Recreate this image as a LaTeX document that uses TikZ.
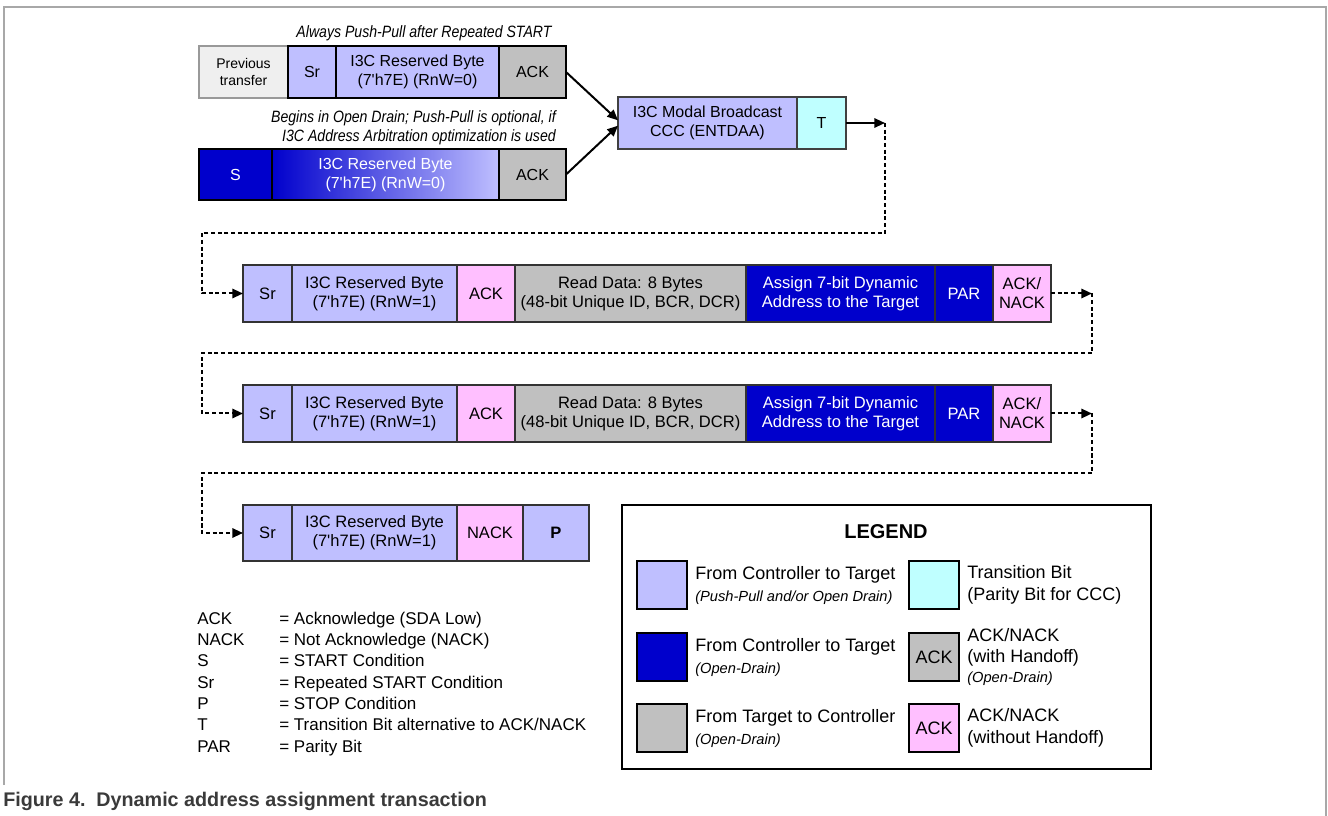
\documentclass[tikz,border=0pt]{standalone}
\usepackage{fontspec}
\setmainfont{Liberation Sans}
\newfontfamily\narrowsans{Liberation Sans}[FakeStretch=0.86]
\usetikzlibrary{arrows.meta,positioning}

\definecolor{lav}{HTML}{BFBFFF}
\definecolor{dkblue}{HTML}{0000CC}
\definecolor{tgray}{HTML}{C0C0C0}
\definecolor{pinkack}{HTML}{FFBFFF}
\definecolor{cyant}{HTML}{BFFFFF}
\definecolor{prevgray}{HTML}{EFEFEF}
\definecolor{framegray}{HTML}{A8A8A8}
\definecolor{capgray}{HTML}{3A3A3A}

\newcommand{\boxfont}{\fontsize{12}{14.25}\selectfont}
\newcommand{\rowfont}{\fontsize{12.4}{14.25}\selectfont}
\newcommand{\prevfont}{\fontsize{10.5}{12.75}\selectfont}
\newcommand{\notefont}{\narrowsans\itshape\fontsize{12.3}{14.25}\selectfont}
\newcommand{\legfont}{\fontsize{13.5}{16.5}\selectfont}
\newcommand{\legsub}{\itshape\fontsize{11}{16.5}\selectfont}
\newcommand{\abbrfont}{\fontsize{12.75}{16}\selectfont}
\newcommand{\hq}{\textquotesingle}

\begin{document}
\begin{tikzpicture}[x=0.75pt,y=-0.75pt]
\useasboundingbox (0,0) rectangle (1328,816);
\draw[framegray,line width=1.5pt] (4,785) -- (4,7) -- (1326,7) -- (1326,816);

\tikzset{fw/.style={minimum width=#1*0.75pt},fh/.style={minimum height=#1*0.75pt}}
\tikzstyle{field}=[draw=black!80,line width=1.3pt,inner sep=0pt,outer sep=0pt,align=center,anchor=north west,font=\rowfont]
\tikzstyle{thickbox}=[draw=black,line width=2.2pt,font=\boxfont]
\tikzstyle{thinbox}=[draw=black!75,line width=1.1pt,font=\boxfont]
\tikzstyle{arr}=[line width=1.5pt,-{Triangle[length=8pt,width=7pt]}]
\tikzstyle{dotarr}=[line width=1.5pt,dash pattern=on 3pt off 2pt,-{Triangle[length=8pt,width=7pt]}]
\tikzstyle{swatch}=[draw,line width=1.4pt,minimum width=37.5pt,minimum height=36pt,anchor=north west,inner sep=0pt,outer sep=0pt,font=\legfont]
\tikzstyle{legtext}=[align=left,anchor=west,inner sep=0pt,font=\legfont]

\node[font=\notefont] (note1) at (424,33) {Always Push-Pull after Repeated START};
\node[field,fw=89,fh=52,fill=prevgray,draw=gray!80,line width=1.1pt,font=\prevfont] (prev) at (199,46) {Previous\\transfer};
\node[field,thickbox,fw=48,fh=52,fill=lav] (sr1) at (prev.north east) {Sr};
\node[field,thickbox,fw=163,fh=52,fill=lav] (rb1) at (sr1.north east) {I3C Reserved Byte\\(7\hq h7E) (RnW=0)};
\node[field,thickbox,fw=67,fh=52,fill=tgray] (ack1) at (rb1.north east) {ACK};

\node[font=\notefont,align=right,anchor=east,inner sep=0pt] (note2) at (556,127.5) {Begins in Open Drain; Push-Pull is optional, if\\I3C Address Arbitration optimization is used};
\node[field,thickbox,fw=73,fh=51,fill=dkblue,text=white] (s2) at (199,149) {S};
\node[field,thickbox,fw=227,fh=51,left color=dkblue,right color=lav,text=white] (rb2) at (s2.north east) {I3C Reserved Byte\\(7\hq h7E) (RnW=0)};
\node[field,thickbox,fw=67,fh=51,fill=tgray] (ack2) at (rb2.north east) {ACK};

\node[field,thinbox,fw=179,fh=52,fill=lav] (modal) at (618,97) {I3C Modal Broadcast\\CCC (ENTDAA)};
\node[field,thinbox,fw=49,fh=52,fill=cyant] (tbit) at (modal.north east) {T};

\foreach \r/\y in {3/265,4/385}{
  \node[field,fw=49,fh=57,fill=lav] (sr\r) at (243,\y) {Sr};
  \node[field,fw=165,fh=57,fill=lav] (rb\r) at (sr\r.north east) {I3C Reserved Byte\\(7\hq h7E) (RnW=1)};
  \node[field,fw=58,fh=57,fill=pinkack] (ack\r) at (rb\r.north east) {ACK};
  \node[field,fw=231,fh=57,fill=tgray] (rd\r) at (ack\r.north east) {Read Data: 8 Bytes\\(48-bit Unique ID, BCR, DCR)};
  \node[field,fw=189,fh=57,fill=dkblue,text=white] (da\r) at (rd\r.north east) {Assign 7-bit Dynamic\\Address to the Target};
  \node[field,fw=58,fh=57,fill=dkblue,text=white] (par\r) at (da\r.north east) {PAR};
  \node[field,fw=58,fh=57,fill=pinkack] (an\r) at (par\r.north east) {ACK/\\NACK};
}

\node[field,fw=49,fh=56,fill=lav] (sr5) at (243,505) {Sr};
\node[field,fw=165,fh=56,fill=lav] (rb5) at (sr5.north east) {I3C Reserved Byte\\(7\hq h7E) (RnW=1)};
\node[field,fw=66,fh=56,fill=pinkack] (nack5) at (rb5.north east) {NACK};
\node[field,fw=66,fh=56,fill=lav,font=\rowfont\bfseries] (stop5) at (nack5.north east) {P};

\draw[arr] (ack1.east) -- ([yshift=2pt]modal.west);
\draw[arr] (ack2.east) -- ([yshift=-2pt]modal.west);
\draw[arr] (tbit.east) -- ++(39,0) coordinate (c2);
\draw[dotarr] (c2) |- (202,233) |- (sr3.west);
\foreach \a/\b/\y in {3/4/353,4/5/473}{
  \draw[dotarr] (an\a.east) -- ++(41,0) coordinate (c\a);
  \draw[dotarr] (c\a) |- (202,\y) |- (sr\b.west);
}

\node[draw,line width=2pt,fw=529,fh=264,anchor=north west,outer sep=0pt] (legend) at (622,505) {};
\node[font=\bfseries\fontsize{15}{18}\selectfont] (legtitle) at (886,532) {LEGEND};
\node[swatch,fill=lav] (sw1) at (637,561) {};
\node[swatch,fill=dkblue] (sw2) at (637,633) {};
\node[swatch,fill=tgray] (sw3) at (637,704) {};
\node[swatch,fill=cyant] (sw4) at (909,561) {};
\node[swatch,fill=tgray] (sw5) at (909,633) {ACK};
\node[swatch,fill=pinkack] (sw6) at (909,704) {ACK};
\node[legtext,right=6pt of sw1] (lt1) {From Controller to Target\\{\legsub (Push-Pull and/or Open Drain)}};
\node[legtext,right=6pt of sw2] (lt2) {From Controller to Target\\{\legsub (Open-Drain)}};
\node[legtext,right=6pt of sw3] (lt3) {From Target to Controller\\{\legsub (Open-Drain)}};
\node[legtext,right=6pt of sw4] (lt4) {Transition Bit\\(Parity Bit for CCC)};
\node[legtext,right=6pt of sw5,font=\fontsize{13.5}{15.4}\selectfont] (lt5) {ACK/NACK\\(with Handoff)\\{\legsub (Open-Drain)}};
\node[legtext,right=6pt of sw6] (lt6) {ACK/NACK\\(without Handoff)};

\node[anchor=west,inner sep=0pt,font=\abbrfont] (abbrev) at (197,684) {%
  \begin{tabular}{@{}p{61.5pt}@{}l@{}}
  ACK & = Acknowledge (SDA Low)\\
  NACK & = Not Acknowledge (NACK)\\
  S & = START Condition\\
  Sr & = Repeated START Condition\\
  P & = STOP Condition\\
  T & = Transition Bit alternative to ACK/NACK\\
  PAR & = Parity Bit
  \end{tabular}};

\node[anchor=west,inner sep=0pt,text=capgray,font=\bfseries\fontsize{14.8}{18}\selectfont] (caption) at (3,801) {Figure 4.~~Dynamic address assignment transaction};
\end{tikzpicture}
\end{document}
